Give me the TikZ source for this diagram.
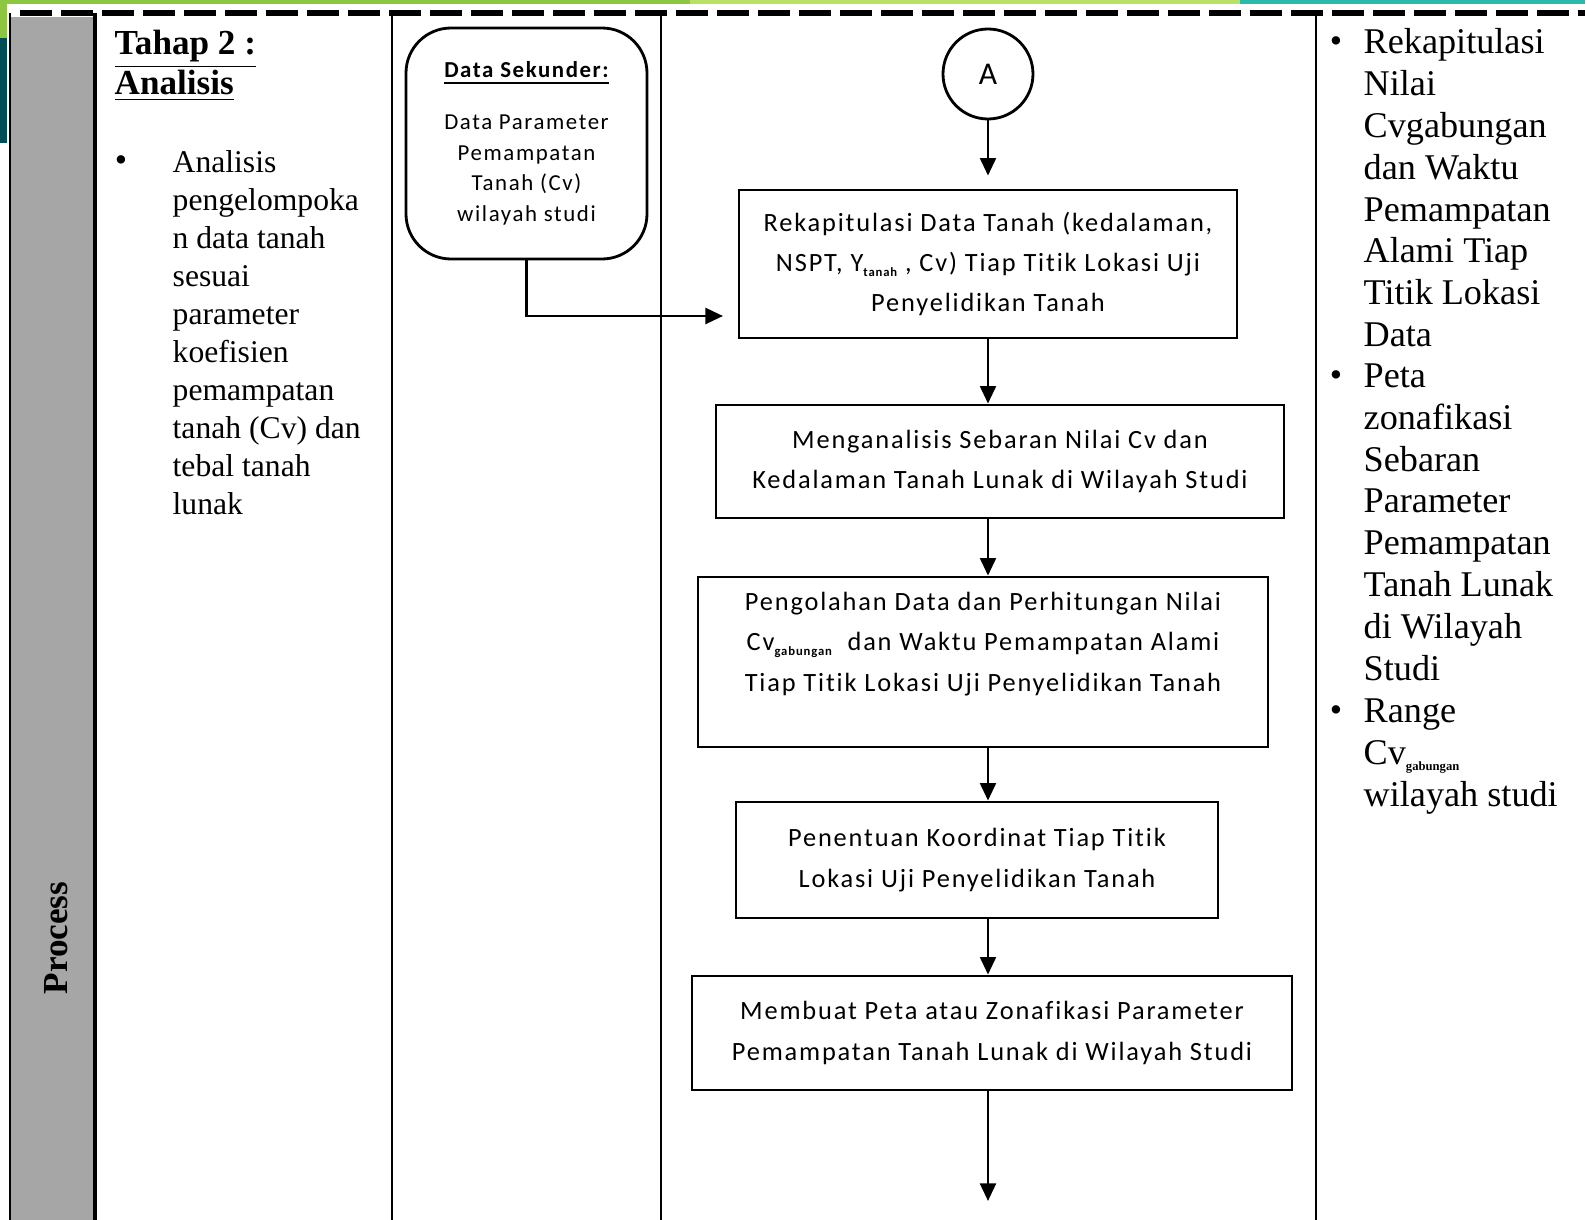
\documentclass[tikz,border=0pt]{standalone}
\usepackage{fontspec}
\setmainfont{Liberation Serif}
\newfontfamily\boxfont[LetterSpace=7,Ligatures=NoCommon]{Carlito}
\usepackage{tikz}
\usetikzlibrary{arrows.meta,
                positioning}

\definecolor{bandgreen}{HTML}{8DC641}
\definecolor{bandlime}{HTML}{B9E065}
\definecolor{bandteal}{HTML}{2DB9A9}
\definecolor{darkteal}{HTML}{004D55}
\definecolor{lanegray}{HTML}{A6A6A6}

\newcommand\subtxt[1]{\raisebox{-0.4ex}{\fontsize{3.6}{4}\selectfont\bfseries #1}}

\tikzset{block/.style=
   {rectangle,
    draw,
    line width=0.8pt,
    align=center,
    inner sep=0pt,
    font=\boxfont\fontsize{7.5}{11.5}\selectfont}}
\tikzset{sekunder/.style=
   {rectangle,
    draw,
    line width=0.8pt,
    rounded corners=0.45cm,
    align=center,
    inner sep=0pt,
    minimum width=2.41cm,
    minimum height=2.31cm,
    font=\boxfont\fontsize{6.5}{8.7}\selectfont}}
\tikzset{lane/.style = {draw, line width=0.7pt}}
\tikzset{arrow/.style = {draw, line width=0.8pt, -{Triangle[length=5pt,width=4.5pt]}}}
\tikzset{bul/.style = {anchor=base, inner sep=0pt}}
\tikzset{coltext/.style = {anchor=north west, align=left, inner sep=0pt}}

\begin{document}
\begin{tikzpicture}[x=0.1mm, y=-0.1mm]
    \useasboundingbox (0,0) rectangle (1585,1220);

    % Slide strips
    \fill[bandgreen] (0,0) rectangle (690,4);
    \fill[bandlime] (690,0) rectangle (1240,4);
    \fill[bandteal] (1240,0) rectangle (1585,4);
    \fill[bandgreen] (0,0) rectangle (7,38);
    \fill[darkteal] (0,38) rectangle (7,143);

    % Lanes
    \fill[lanegray] (11,17) rectangle (95,1220);
    \draw[lane] (10,13) -- (10,1220);
    \draw[lane, line width=1.2pt] (95,13) -- (95,1220);
    \draw[lane] (392,13) -- (392,1220);
    \draw[lane] (661,13) -- (661,1220);
    \draw[lane] (1316,13) -- (1316,1220);
    \draw[line width=1.7pt, dash pattern=on 0.32cm off 0.09cm] (20,13) -- (1585,13);

    % Left columns
    \node[rotate=90, font=\bfseries\fontsize{10}{12}\selectfont] (process) at (56,938) {Process};
    \node[coltext, font=\bfseries\fontsize{10}{11.4}\selectfont] (tahap) at (114,29)
        {\underline{Tahap 2 :}\\\underline{Analisis}};
    \node[bul] (b0) at (121,172) {\textbullet};
    \node[coltext, font=\fontsize{9}{10.8}\selectfont] (kelompok) at (172,150)
        {Analisis\\pengelompoka\\n data tanah\\sesuai\\parameter\\koefisien\\pemampatan\\tanah (Cv) dan\\tebal tanah\\lunak};

    % Blocks
    \node [sekunder] (sekunder) at (526.5,143.5)
        {\textbf{\underline{Data Sekunder:}}\\[6pt]Data Parameter\\Pemampatan\\Tanah (Cv)\\wilayah studi};
    \node [circle, draw, line width=0.8pt, minimum size=0.9cm, inner sep=0pt,
           font=\boxfont\fontsize{9}{11}\selectfont] (A) at (988,74) {A};
    \node [block, minimum width=4.98cm, minimum height=1.48cm] (rekap) at (988,264)
        {Rekapitulasi Data Tanah (kedalaman,\\NSPT, Y\subtxt{tanah} , Cv) Tiap Titik Lokasi Uji\\Penyelidikan Tanah};
    \node [block, minimum width=5.68cm, minimum height=1.13cm] (sebaran) at (1000,461.5)
        {Menganalisis Sebaran Nilai Cv dan\\Kedalaman Tanah Lunak di Wilayah Studi};
    \node [block, minimum width=5.70cm, minimum height=1.70cm] (olah) at (983,662)
        {Pengolahan Data dan Perhitungan Nilai\\Cv\subtxt{gabungan}\ \ dan Waktu Pemampatan Alami\\Tiap Titik Lokasi Uji Penyelidikan Tanah\\\mbox{}};
    \node [block, minimum width=4.82cm, minimum height=1.16cm] (koordinat) at (977,860)
        {Penentuan Koordinat Tiap Titik\\Lokasi Uji Penyelidikan Tanah};
    \node [block, minimum width=6.00cm, minimum height=1.14cm] (peta) at (992,1033)
        {Membuat Peta atau Zonafikasi Parameter\\Pemampatan Tanah Lunak di Wilayah Studi};
    \coordinate (masuk) at (723,316);
    \coordinate (lanjut) at (988,1201);

    % Right column
    \node[bul] (b1) at (1336,53) {\textbullet};
    \node[coltext, font=\fontsize{10.3}{11.9}\selectfont] (hasil1) at (1363,28)
        {Rekapitulasi\\Nilai\\Cvgabungan\\dan Waktu\\Pemampatan\\Alami Tiap\\Titik Lokasi\\Data};
    \node[bul] (b2) at (1336,387) {\textbullet};
    \node[coltext, font=\fontsize{10.3}{11.9}\selectfont] (hasil2) at (1363,363)
        {Peta\\zonafikasi\\Sebaran\\Parameter\\Pemampatan\\Tanah Lunak\\di Wilayah\\Studi};
    \node[bul] (b3) at (1336,722) {\textbullet};
    \node[coltext, font=\fontsize{10.3}{11.9}\selectfont] (hasil3) at (1363,698)
        {Range\\Cv\subtxt{gabungan}\\wilayah studi};

    % Draw edges
    \path [arrow, shorten >=0.13cm]
    (A.south) -- (A.south |- rekap.north);

    \path [arrow]
    (sekunder.south) |- (masuk);

    \path [arrow]
    (rekap.south -| A) -- (sebaran.north -| A);

    \path [arrow]
    (sebaran.south -| A) -- (olah.north -| A);

    \path [arrow]
    (olah.south -| A) -- (koordinat.north -| A);

    \path [arrow]
    (koordinat.south -| A) -- (peta.north -| A);

    \path [arrow]
    (peta.south -| A) -- (lanjut);

\end{tikzpicture}
\end{document}
